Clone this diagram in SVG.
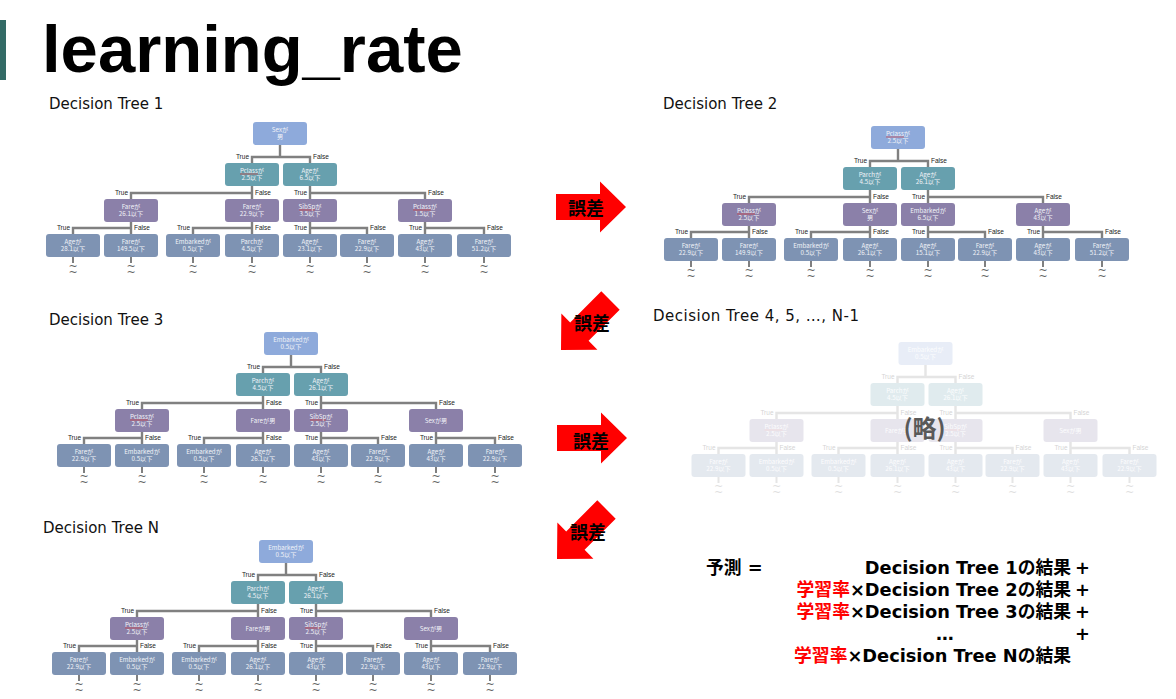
<svg xmlns="http://www.w3.org/2000/svg" xmlns:xlink="http://www.w3.org/1999/xlink" width="1176" height="699" viewBox="0 0 1176 699">
<style>
.n0{fill:#8eaadb}.n1{fill:#67a0ae}.n2{fill:#8b80a9}.n3{fill:#7e93b3}
.nt{font-family:"Noto Sans CJK JP",sans-serif;font-size:6.2px;fill:#f2f4f8;text-anchor:middle}
.sq{stroke:#e0302a;stroke-width:.6;fill:none}
.cn{stroke:#808080;stroke-width:2.4;fill:none}
.tk{stroke:#808080;stroke-width:2;fill:none}
.tf{font-family:"Liberation Sans",sans-serif;font-size:6.5px;fill:#222}
.e{text-anchor:end}
.tl{font-family:"DejaVu Sans",sans-serif;font-size:11px;fill:#666;text-anchor:middle}
.lbl{font-family:"DejaVu Sans",sans-serif;font-size:15px;fill:#111}
.err{font-family:"Noto Sans CJK JP",sans-serif;font-size:18px;font-weight:bold;fill:#000;text-anchor:middle}
.fm{font-family:"DejaVu Sans","Noto Sans CJK JP",sans-serif;font-size:17.8px;font-weight:bold;fill:#000}
.red{fill:#ff0000}
.arrow{fill:#ff0000}
</style>
<defs>
<path id="arr" d="M0,0 L-26,-25.5 L-26,-13 L-70,-13 L-70,13 L-26,13 L-26,25.5 Z"/>
<g id="edges">
<path class="cn" d="M0,23V35 M-28,41V35H30V41 M-28,64V77 M-28,71H-149V77 M30,64V77 M30,71H145V77 M-149,100V112 M-149,106H-207V112 M-28,100V112 M-28,106H-87V112 M30,100V112 M30,106H87V112 M145,100V112 M145,106H204V112"/>
<path class="tk" d="M-207,135V141 M-149,135V141 M-87,135V141 M-28,135V141 M30,135V141 M87,135V141 M145,135V141 M204,135V141"/>
<text class="tf e" x="-31" y="37">True</text><text class="tf" x="33" y="37">False</text>
<text class="tf e" x="-152" y="73">True</text><text class="tf" x="-25" y="73">False</text>
<text class="tf e" x="27" y="73">True</text><text class="tf" x="148" y="73">False</text>
<text class="tf e" x="-210" y="108">True</text><text class="tf" x="-146" y="108">False</text>
<text class="tf e" x="-90" y="108">True</text><text class="tf" x="-25" y="108">False</text>
<text class="tf e" x="27" y="108">True</text><text class="tf" x="90" y="108">False</text>
<text class="tf e" x="142" y="108">True</text><text class="tf" x="207" y="108">False</text>
<text class="tl"><tspan x="-207" y="148">~</tspan><tspan x="-207" y="154">~</tspan><tspan x="-149" y="148">~</tspan><tspan x="-149" y="154">~</tspan><tspan x="-87" y="148">~</tspan><tspan x="-87" y="154">~</tspan><tspan x="-28" y="148">~</tspan><tspan x="-28" y="154">~</tspan><tspan x="30" y="148">~</tspan><tspan x="30" y="154">~</tspan><tspan x="87" y="148">~</tspan><tspan x="87" y="154">~</tspan><tspan x="145" y="148">~</tspan><tspan x="145" y="154">~</tspan><tspan x="204" y="148">~</tspan><tspan x="204" y="154">~</tspan></text>
</g>
</defs>
<rect width="1176" height="699" fill="#fff"/>
<rect x="0" y="20" width="6" height="60" fill="#336b66"/>
<text x="42" y="72" font-family="Liberation Sans, sans-serif" font-size="67" font-weight="bold" fill="#000">learning_rate</text>

<text class="lbl" x="49" y="109">Decision Tree 1</text>
<text class="lbl" x="663" y="109">Decision Tree 2</text>
<text class="lbl" x="49" y="325">Decision Tree 3</text>
<text class="lbl" x="653" y="321" textLength="206" lengthAdjust="spacing">Decision Tree 4, 5, …, N-1</text>
<text class="lbl" x="43" y="533">Decision Tree N</text>

<!-- Tree 1 -->
<g id="tree1" transform="translate(280,122)">
<g id="t1-connectors"><use xlink:href="#edges"/></g>
<g id="t1-root"><rect class="n0" x="-27" y="0" width="54" height="23" rx="3"/><text class="nt"><tspan x="0" y="9.5">Sexが</tspan><tspan x="0" y="16.5">男</tspan></text></g>
<g id="t1-a" transform="translate(-28,41)"><rect class="n1" x="-27" y="0" width="54" height="23" rx="3"/><path class="sq" d="M-12,11h18"/><text class="nt"><tspan x="0" y="9.5">Pclassが</tspan><tspan x="0" y="16.5">2.5以下</tspan></text></g>
<g id="t1-b" transform="translate(30,41)"><rect class="n1" x="-27" y="0" width="54" height="23" rx="3"/><text class="nt"><tspan x="0" y="9.5">Ageが</tspan><tspan x="0" y="16.5">6.5以下</tspan></text></g>
<g id="t1-c" transform="translate(-149,77)"><rect class="n2" x="-27" y="0" width="54" height="23" rx="3"/><text class="nt"><tspan x="0" y="9.5">Fareが</tspan><tspan x="0" y="16.5">26.1以下</tspan></text></g>
<g id="t1-d" transform="translate(-28,77)"><rect class="n2" x="-27" y="0" width="54" height="23" rx="3"/><text class="nt"><tspan x="0" y="9.5">Fareが</tspan><tspan x="0" y="16.5">22.9以下</tspan></text></g>
<g id="t1-e" transform="translate(30,77)"><rect class="n2" x="-27" y="0" width="54" height="23" rx="3"/><path class="sq" d="M-11,11h16"/><text class="nt"><tspan x="0" y="9.5">SibSpが</tspan><tspan x="0" y="16.5">3.5以下</tspan></text></g>
<g id="t1-f" transform="translate(145,77)"><rect class="n2" x="-27" y="0" width="54" height="23" rx="3"/><path class="sq" d="M-12,11h18"/><text class="nt"><tspan x="0" y="9.5">Pclassが</tspan><tspan x="0" y="16.5">1.5以下</tspan></text></g>
<g id="t1-l1" transform="translate(-207,112)"><rect class="n3" x="-27" y="0" width="54" height="23" rx="3"/><text class="nt"><tspan x="0" y="9.5">Ageが</tspan><tspan x="0" y="16.5">28.1以下</tspan></text></g>
<g id="t1-l2" transform="translate(-149,112)"><rect class="n3" x="-27" y="0" width="54" height="23" rx="3"/><text class="nt"><tspan x="0" y="9.5">Fareが</tspan><tspan x="0" y="16.5">149.5以下</tspan></text></g>
<g id="t1-l3" transform="translate(-87,112)"><rect class="n3" x="-27" y="0" width="54" height="23" rx="3"/><text class="nt"><tspan x="0" y="9.5">Embarkedが</tspan><tspan x="0" y="16.5">0.5以下</tspan></text></g>
<g id="t1-l4" transform="translate(-28,112)"><rect class="n3" x="-27" y="0" width="54" height="23" rx="3"/><text class="nt"><tspan x="0" y="9.5">Parchが</tspan><tspan x="0" y="16.5">4.5以下</tspan></text></g>
<g id="t1-l5" transform="translate(30,112)"><rect class="n3" x="-27" y="0" width="54" height="23" rx="3"/><text class="nt"><tspan x="0" y="9.5">Ageが</tspan><tspan x="0" y="16.5">23.1以下</tspan></text></g>
<g id="t1-l6" transform="translate(87,112)"><rect class="n3" x="-27" y="0" width="54" height="23" rx="3"/><text class="nt"><tspan x="0" y="9.5">Fareが</tspan><tspan x="0" y="16.5">22.9以下</tspan></text></g>
<g id="t1-l7" transform="translate(145,112)"><rect class="n3" x="-27" y="0" width="54" height="23" rx="3"/><text class="nt"><tspan x="0" y="9.5">Ageが</tspan><tspan x="0" y="16.5">43以下</tspan></text></g>
<g id="t1-l8" transform="translate(204,112)"><rect class="n3" x="-27" y="0" width="54" height="23" rx="3"/><text class="nt"><tspan x="0" y="9.5">Fareが</tspan><tspan x="0" y="16.5">51.2以下</tspan></text></g>
</g>

<!-- Tree 2 -->
<g id="tree2" transform="translate(898,126)">
<g id="t2-connectors"><use xlink:href="#edges"/></g>
<g id="t2-root"><rect class="n0" x="-27" y="0" width="54" height="23" rx="3"/><path class="sq" d="M-12,11h18"/><text class="nt"><tspan x="0" y="9.5">Pclassが</tspan><tspan x="0" y="16.5">2.5以下</tspan></text></g>
<g id="t2-a" transform="translate(-28,41)"><rect class="n1" x="-27" y="0" width="54" height="23" rx="3"/><text class="nt"><tspan x="0" y="9.5">Parchが</tspan><tspan x="0" y="16.5">4.5以下</tspan></text></g>
<g id="t2-b" transform="translate(30,41)"><rect class="n1" x="-27" y="0" width="54" height="23" rx="3"/><text class="nt"><tspan x="0" y="9.5">Ageが</tspan><tspan x="0" y="16.5">26.1以下</tspan></text></g>
<g id="t2-c" transform="translate(-149,77)"><rect class="n2" x="-27" y="0" width="54" height="23" rx="3"/><path class="sq" d="M-12,11h18"/><text class="nt"><tspan x="0" y="9.5">Pclassが</tspan><tspan x="0" y="16.5">2.5以下</tspan></text></g>
<g id="t2-d" transform="translate(-28,77)"><rect class="n2" x="-27" y="0" width="54" height="23" rx="3"/><text class="nt"><tspan x="0" y="9.5">Sexが</tspan><tspan x="0" y="16.5">男</tspan></text></g>
<g id="t2-e" transform="translate(30,77)"><rect class="n2" x="-27" y="0" width="54" height="23" rx="3"/><text class="nt"><tspan x="0" y="9.5">Embarkedが</tspan><tspan x="0" y="16.5">6.5以下</tspan></text></g>
<g id="t2-f" transform="translate(145,77)"><rect class="n2" x="-27" y="0" width="54" height="23" rx="3"/><text class="nt"><tspan x="0" y="9.5">Ageが</tspan><tspan x="0" y="16.5">43以下</tspan></text></g>
<g id="t2-l1" transform="translate(-207,112)"><rect class="n3" x="-27" y="0" width="54" height="23" rx="3"/><text class="nt"><tspan x="0" y="9.5">Fareが</tspan><tspan x="0" y="16.5">22.9以下</tspan></text></g>
<g id="t2-l2" transform="translate(-149,112)"><rect class="n3" x="-27" y="0" width="54" height="23" rx="3"/><text class="nt"><tspan x="0" y="9.5">Fareが</tspan><tspan x="0" y="16.5">149.9以下</tspan></text></g>
<g id="t2-l3" transform="translate(-87,112)"><rect class="n3" x="-27" y="0" width="54" height="23" rx="3"/><text class="nt"><tspan x="0" y="9.5">Embarkedが</tspan><tspan x="0" y="16.5">0.5以下</tspan></text></g>
<g id="t2-l4" transform="translate(-28,112)"><rect class="n3" x="-27" y="0" width="54" height="23" rx="3"/><text class="nt"><tspan x="0" y="9.5">Ageが</tspan><tspan x="0" y="16.5">26.1以下</tspan></text></g>
<g id="t2-l5" transform="translate(30,112)"><rect class="n3" x="-27" y="0" width="54" height="23" rx="3"/><text class="nt"><tspan x="0" y="9.5">Ageが</tspan><tspan x="0" y="16.5">15.1以下</tspan></text></g>
<g id="t2-l6" transform="translate(87,112)"><rect class="n3" x="-27" y="0" width="54" height="23" rx="3"/><text class="nt"><tspan x="0" y="9.5">Fareが</tspan><tspan x="0" y="16.5">22.9以下</tspan></text></g>
<g id="t2-l7" transform="translate(145,112)"><rect class="n3" x="-27" y="0" width="54" height="23" rx="3"/><text class="nt"><tspan x="0" y="9.5">Ageが</tspan><tspan x="0" y="16.5">43以下</tspan></text></g>
<g id="t2-l8" transform="translate(204,112)"><rect class="n3" x="-27" y="0" width="54" height="23" rx="3"/><text class="nt"><tspan x="0" y="9.5">Fareが</tspan><tspan x="0" y="16.5">51.2以下</tspan></text></g>
</g>

<!-- Tree 3 -->
<g id="tree3" transform="translate(291,332)">
<g id="t3-connectors"><use xlink:href="#edges"/></g>
<g id="t3-root"><rect class="n0" x="-27" y="0" width="54" height="23" rx="3"/><text class="nt"><tspan x="0" y="9.5">Embarkedが</tspan><tspan x="0" y="16.5">0.5以下</tspan></text></g>
<g id="t3-a" transform="translate(-28,41)"><rect class="n1" x="-27" y="0" width="54" height="23" rx="3"/><text class="nt"><tspan x="0" y="9.5">Parchが</tspan><tspan x="0" y="16.5">4.5以下</tspan></text></g>
<g id="t3-b" transform="translate(30,41)"><rect class="n1" x="-27" y="0" width="54" height="23" rx="3"/><text class="nt"><tspan x="0" y="9.5">Ageが</tspan><tspan x="0" y="16.5">26.1以下</tspan></text></g>
<g id="t3-c" transform="translate(-149,77)"><rect class="n2" x="-27" y="0" width="54" height="23" rx="3"/><path class="sq" d="M-12,11h18"/><text class="nt"><tspan x="0" y="9.5">Pclassが</tspan><tspan x="0" y="16.5">2.5以下</tspan></text></g>
<g id="t3-d" transform="translate(-28,77)"><rect class="n2" x="-27" y="0" width="54" height="23" rx="3"/><text class="nt" x="0" y="14">Fareが男</text></g>
<g id="t3-e" transform="translate(30,77)"><rect class="n2" x="-27" y="0" width="54" height="23" rx="3"/><path class="sq" d="M-11,11h16"/><text class="nt"><tspan x="0" y="9.5">SibSpが</tspan><tspan x="0" y="16.5">2.5以下</tspan></text></g>
<g id="t3-f" transform="translate(145,77)"><rect class="n2" x="-27" y="0" width="54" height="23" rx="3"/><text class="nt" x="0" y="14">Sexが男</text></g>
<g id="t3-l1" transform="translate(-207,112)"><rect class="n3" x="-27" y="0" width="54" height="23" rx="3"/><text class="nt"><tspan x="0" y="9.5">Fareが</tspan><tspan x="0" y="16.5">22.9以下</tspan></text></g>
<g id="t3-l2" transform="translate(-149,112)"><rect class="n3" x="-27" y="0" width="54" height="23" rx="3"/><text class="nt"><tspan x="0" y="9.5">Embarkedが</tspan><tspan x="0" y="16.5">0.5以下</tspan></text></g>
<g id="t3-l3" transform="translate(-87,112)"><rect class="n3" x="-27" y="0" width="54" height="23" rx="3"/><text class="nt"><tspan x="0" y="9.5">Embarkedが</tspan><tspan x="0" y="16.5">0.5以下</tspan></text></g>
<g id="t3-l4" transform="translate(-28,112)"><rect class="n3" x="-27" y="0" width="54" height="23" rx="3"/><text class="nt"><tspan x="0" y="9.5">Ageが</tspan><tspan x="0" y="16.5">26.1以下</tspan></text></g>
<g id="t3-l5" transform="translate(30,112)"><rect class="n3" x="-27" y="0" width="54" height="23" rx="3"/><text class="nt"><tspan x="0" y="9.5">Ageが</tspan><tspan x="0" y="16.5">43以下</tspan></text></g>
<g id="t3-l6" transform="translate(87,112)"><rect class="n3" x="-27" y="0" width="54" height="23" rx="3"/><text class="nt"><tspan x="0" y="9.5">Fareが</tspan><tspan x="0" y="16.5">22.9以下</tspan></text></g>
<g id="t3-l7" transform="translate(145,112)"><rect class="n3" x="-27" y="0" width="54" height="23" rx="3"/><text class="nt"><tspan x="0" y="9.5">Ageが</tspan><tspan x="0" y="16.5">43以下</tspan></text></g>
<g id="t3-l8" transform="translate(204,112)"><rect class="n3" x="-27" y="0" width="54" height="23" rx="3"/><text class="nt"><tspan x="0" y="9.5">Fareが</tspan><tspan x="0" y="16.5">22.9以下</tspan></text></g>
</g>

<!-- Tree N -->
<g id="treeN" transform="translate(286,540)">
<g id="tN-connectors"><use xlink:href="#edges"/></g>
<g id="tN-root"><rect class="n0" x="-27" y="0" width="54" height="23" rx="3"/><text class="nt"><tspan x="0" y="9.5">Embarkedが</tspan><tspan x="0" y="16.5">0.5以下</tspan></text></g>
<g id="tN-a" transform="translate(-28,41)"><rect class="n1" x="-27" y="0" width="54" height="23" rx="3"/><text class="nt"><tspan x="0" y="9.5">Parchが</tspan><tspan x="0" y="16.5">4.5以下</tspan></text></g>
<g id="tN-b" transform="translate(30,41)"><rect class="n1" x="-27" y="0" width="54" height="23" rx="3"/><text class="nt"><tspan x="0" y="9.5">Ageが</tspan><tspan x="0" y="16.5">26.1以下</tspan></text></g>
<g id="tN-c" transform="translate(-149,77)"><rect class="n2" x="-27" y="0" width="54" height="23" rx="3"/><path class="sq" d="M-12,11h18"/><text class="nt"><tspan x="0" y="9.5">Pclassが</tspan><tspan x="0" y="16.5">2.5以下</tspan></text></g>
<g id="tN-d" transform="translate(-28,77)"><rect class="n2" x="-27" y="0" width="54" height="23" rx="3"/><text class="nt" x="0" y="14">Fareが男</text></g>
<g id="tN-e" transform="translate(30,77)"><rect class="n2" x="-27" y="0" width="54" height="23" rx="3"/><path class="sq" d="M-11,11h16"/><text class="nt"><tspan x="0" y="9.5">SibSpが</tspan><tspan x="0" y="16.5">2.5以下</tspan></text></g>
<g id="tN-f" transform="translate(145,77)"><rect class="n2" x="-27" y="0" width="54" height="23" rx="3"/><text class="nt" x="0" y="14">Sexが男</text></g>
<g id="tN-l1" transform="translate(-207,112)"><rect class="n3" x="-27" y="0" width="54" height="23" rx="3"/><text class="nt"><tspan x="0" y="9.5">Fareが</tspan><tspan x="0" y="16.5">22.9以下</tspan></text></g>
<g id="tN-l2" transform="translate(-149,112)"><rect class="n3" x="-27" y="0" width="54" height="23" rx="3"/><text class="nt"><tspan x="0" y="9.5">Embarkedが</tspan><tspan x="0" y="16.5">0.5以下</tspan></text></g>
<g id="tN-l3" transform="translate(-87,112)"><rect class="n3" x="-27" y="0" width="54" height="23" rx="3"/><text class="nt"><tspan x="0" y="9.5">Embarkedが</tspan><tspan x="0" y="16.5">0.5以下</tspan></text></g>
<g id="tN-l4" transform="translate(-28,112)"><rect class="n3" x="-27" y="0" width="54" height="23" rx="3"/><text class="nt"><tspan x="0" y="9.5">Ageが</tspan><tspan x="0" y="16.5">26.1以下</tspan></text></g>
<g id="tN-l5" transform="translate(30,112)"><rect class="n3" x="-27" y="0" width="54" height="23" rx="3"/><text class="nt"><tspan x="0" y="9.5">Ageが</tspan><tspan x="0" y="16.5">43以下</tspan></text></g>
<g id="tN-l6" transform="translate(87,112)"><rect class="n3" x="-27" y="0" width="54" height="23" rx="3"/><text class="nt"><tspan x="0" y="9.5">Fareが</tspan><tspan x="0" y="16.5">22.9以下</tspan></text></g>
<g id="tN-l7" transform="translate(145,112)"><rect class="n3" x="-27" y="0" width="54" height="23" rx="3"/><text class="nt"><tspan x="0" y="9.5">Ageが</tspan><tspan x="0" y="16.5">43以下</tspan></text></g>
<g id="tN-l8" transform="translate(204,112)"><rect class="n3" x="-27" y="0" width="54" height="23" rx="3"/><text class="nt"><tspan x="0" y="9.5">Fareが</tspan><tspan x="0" y="16.5">22.9以下</tspan></text></g>
</g>

<!-- Faded tree 4..N-1 -->
<g id="treeF" transform="translate(925.5,342)" opacity="0.2">
<g id="tF-connectors"><use xlink:href="#edges"/></g>
<g id="tF-root"><rect class="n0" x="-27" y="0" width="54" height="23" rx="3"/><text class="nt"><tspan x="0" y="9.5">Embarkedが</tspan><tspan x="0" y="16.5">0.5以下</tspan></text></g>
<g id="tF-a" transform="translate(-28,41)"><rect class="n1" x="-27" y="0" width="54" height="23" rx="3"/><text class="nt"><tspan x="0" y="9.5">Parchが</tspan><tspan x="0" y="16.5">4.5以下</tspan></text></g>
<g id="tF-b" transform="translate(30,41)"><rect class="n1" x="-27" y="0" width="54" height="23" rx="3"/><text class="nt"><tspan x="0" y="9.5">Ageが</tspan><tspan x="0" y="16.5">26.1以下</tspan></text></g>
<g id="tF-c" transform="translate(-149,77)"><rect class="n2" x="-27" y="0" width="54" height="23" rx="3"/><path class="sq" d="M-12,11h18"/><text class="nt"><tspan x="0" y="9.5">Pclassが</tspan><tspan x="0" y="16.5">2.5以下</tspan></text></g>
<g id="tF-d" transform="translate(-28,77)"><rect class="n2" x="-27" y="0" width="54" height="23" rx="3"/><text class="nt" x="0" y="14">Fareが男</text></g>
<g id="tF-e" transform="translate(30,77)"><rect class="n2" x="-27" y="0" width="54" height="23" rx="3"/><path class="sq" d="M-11,11h16"/><text class="nt"><tspan x="0" y="9.5">SibSpが</tspan><tspan x="0" y="16.5">2.5以下</tspan></text></g>
<g id="tF-f" transform="translate(145,77)"><rect class="n2" x="-27" y="0" width="54" height="23" rx="3"/><text class="nt" x="0" y="14">Sexが男</text></g>
<g id="tF-l1" transform="translate(-207,112)"><rect class="n3" x="-27" y="0" width="54" height="23" rx="3"/><text class="nt"><tspan x="0" y="9.5">Fareが</tspan><tspan x="0" y="16.5">22.9以下</tspan></text></g>
<g id="tF-l2" transform="translate(-149,112)"><rect class="n3" x="-27" y="0" width="54" height="23" rx="3"/><text class="nt"><tspan x="0" y="9.5">Embarkedが</tspan><tspan x="0" y="16.5">0.5以下</tspan></text></g>
<g id="tF-l3" transform="translate(-87,112)"><rect class="n3" x="-27" y="0" width="54" height="23" rx="3"/><text class="nt"><tspan x="0" y="9.5">Embarkedが</tspan><tspan x="0" y="16.5">0.5以下</tspan></text></g>
<g id="tF-l4" transform="translate(-28,112)"><rect class="n3" x="-27" y="0" width="54" height="23" rx="3"/><text class="nt"><tspan x="0" y="9.5">Ageが</tspan><tspan x="0" y="16.5">26.1以下</tspan></text></g>
<g id="tF-l5" transform="translate(30,112)"><rect class="n3" x="-27" y="0" width="54" height="23" rx="3"/><text class="nt"><tspan x="0" y="9.5">Ageが</tspan><tspan x="0" y="16.5">43以下</tspan></text></g>
<g id="tF-l6" transform="translate(87,112)"><rect class="n3" x="-27" y="0" width="54" height="23" rx="3"/><text class="nt"><tspan x="0" y="9.5">Fareが</tspan><tspan x="0" y="16.5">22.9以下</tspan></text></g>
<g id="tF-l7" transform="translate(145,112)"><rect class="n3" x="-27" y="0" width="54" height="23" rx="3"/><text class="nt"><tspan x="0" y="9.5">Ageが</tspan><tspan x="0" y="16.5">43以下</tspan></text></g>
<g id="tF-l8" transform="translate(204,112)"><rect class="n3" x="-27" y="0" width="54" height="23" rx="3"/><text class="nt"><tspan x="0" y="9.5">Fareが</tspan><tspan x="0" y="16.5">22.9以下</tspan></text></g>
</g>
<text x="924.5" y="437" font-family="Noto Sans CJK JP, sans-serif" font-size="24" font-weight="bold" fill="#595959" text-anchor="middle">(略)</text>

<!-- error arrows -->
<g id="arrows">
<g id="arrow1"><use xlink:href="#arr" class="arrow" transform="translate(626,207)"/><text class="err" x="586" y="214.5">誤差</text></g>
<g id="arrow2"><use xlink:href="#arr" class="arrow" transform="translate(561,350) rotate(135)"/><text class="err" x="592" y="329.5">誤差</text></g>
<g id="arrow3"><use xlink:href="#arr" class="arrow" transform="translate(627,438)"/><text class="err" x="591" y="447.5">誤差</text></g>
<g id="arrow4"><use xlink:href="#arr" class="arrow" transform="translate(557,559) rotate(135)"/><text class="err" x="588" y="538.5">誤差</text></g>
</g>

<!-- formula -->
<g id="formula">
<text class="fm" x="706" y="574">予測 =</text>
<text class="fm" x="1071" y="574" text-anchor="end">Decision Tree 1の結果</text>
<text class="fm" x="1090" y="574" text-anchor="end">+</text>
<text class="fm" x="1071" y="596" text-anchor="end"><tspan class="red">学習率</tspan>×Decision Tree 2の結果</text>
<text class="fm" x="1090" y="596" text-anchor="end">+</text>
<text class="fm" x="1071" y="618" text-anchor="end"><tspan class="red">学習率</tspan>×Decision Tree 3の結果</text>
<text class="fm" x="1090" y="618" text-anchor="end">+</text>
<text class="fm" x="945" y="640" text-anchor="middle">…</text>
<text class="fm" x="1090" y="640" text-anchor="end">+</text>
<text class="fm" x="1071" y="662" text-anchor="end"><tspan class="red">学習率</tspan>×Decision Tree Nの結果</text>
</g>
</svg>
